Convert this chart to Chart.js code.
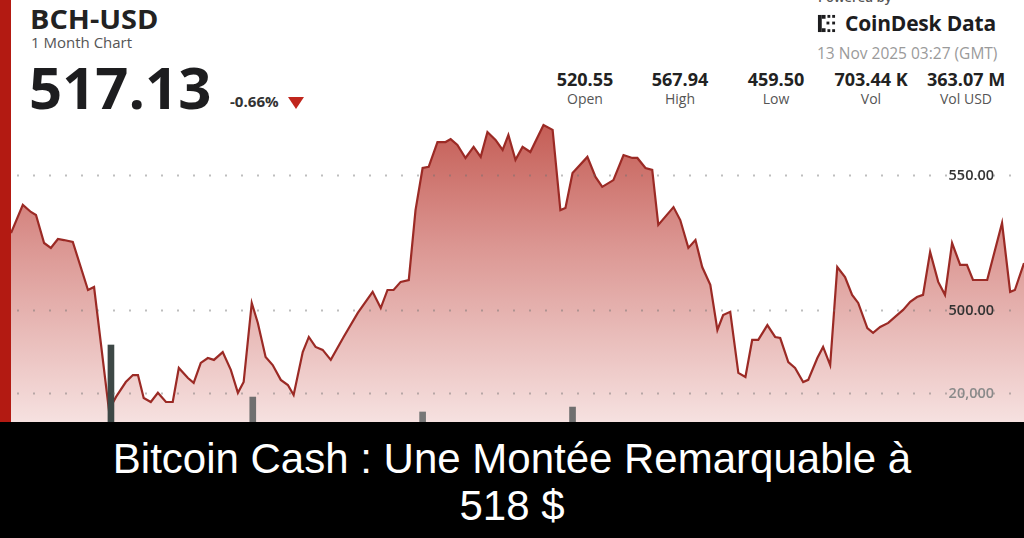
<!DOCTYPE html>
<html>
<head>
<meta charset="utf-8">
<script src="https://cdn.jsdelivr.net/npm/chart.js@4.4.1/dist/chart.umd.min.js"></script>
<style>
    html, body { margin: 0; padding: 0; background: #fff; }
    body { width: 1024px; height: 538px; position: relative; overflow: hidden; font-family: "Open Sans", "Noto Sans", sans-serif; }
    .red-bar { position: absolute; left: 0; top: 0; width: 11px; height: 422px; background: #b31a12; }
    .chart-box { position: absolute; left: 11px; top: 110px; width: 1013px; height: 312px; }
    .abs { position: absolute; white-space: nowrap; line-height: 1; }
    .ticker { left: 30px; top: 5px; font-size: 27px; font-weight: 700; color: #222; transform: scaleX(1.07); transform-origin: left; }
    .sub { left: 31px; top: 35px; font-size: 15px; color: #555; }
    .price { left: 29px; top: 58px; font-size: 58px; font-weight: 700; color: #1d1d1f; }
    .chg { left: 230px; top: 95px; font-size: 14px; font-weight: 700; color: #333; transform: scaleX(1.08); transform-origin: left; }
    .tri { left: 288px; top: 97px; width: 0; height: 0; border-left: 8px solid transparent; border-right: 8px solid transparent; border-top: 12px solid #c0261d; }
    .powered { left: 818px; top: -9px; font-size: 13px; color: #555; font-weight: 600; }
    .logo { left: 845px; top: 13px; font-size: 21px; font-weight: 700; color: #1d1d1f; letter-spacing: -0.2px; }
    .logo-ic { left: 817px; top: 14px; width: 19px; height: 19px; }
    .stamp { left: 817px; top: 46px; font-size: 15.5px; color: #9a9a9a; }
    .stat { width: 120px; text-align: center; }
    .stat-v { top: 70px; font-size: 18px; font-weight: 700; color: #222; }
    .stat-l { top: 92px; font-size: 14px; color: #555; }
    .band { position: absolute; left: 0; top: 422px; width: 1024px; height: 116px; background: #000; color: #fff;
            font-family: "Liberation Sans", Arial, sans-serif; font-size: 42px;
            line-height: 47px; text-align: center; padding-top: 13px; box-sizing: border-box; }
</style>
</head>
<body>
<div class="red-bar"></div>

<div class="abs ticker">BCH-USD</div>
<div class="abs sub">1 Month Chart</div>
<div class="abs price">517.13</div>
<div class="abs chg">-0.66%</div>
<div class="abs tri"></div>

<div class="abs powered">Powered by</div>
<svg class="abs logo-ic" viewBox="0 0 20 20">
    <rect x="1" y="1" width="4" height="18" fill="#1d1d1f"/>
    <rect x="5" y="1" width="4" height="4" fill="#1d1d1f"/>
    <rect x="5" y="15" width="4" height="4" fill="#1d1d1f"/>
    <rect x="11" y="1" width="3" height="3" fill="#1d1d1f"/>
    <rect x="11" y="16" width="3" height="3" fill="#1d1d1f"/>
    <rect x="16" y="1" width="3" height="3" fill="#1d1d1f"/>
    <rect x="16" y="16" width="3" height="3" fill="#1d1d1f"/>
    <rect x="10" y="8" width="3" height="3" fill="#1d1d1f"/>
    <rect x="16" y="8" width="3" height="3" fill="#1d1d1f"/>
</svg>
<div class="abs logo">CoinDesk Data</div>
<div class="abs stamp">13 Nov 2025 03:27 (GMT)</div>

<div id="stats"></div>

<div class="chart-box"><canvas id="chart"></canvas></div>

<div class="band">Bitcoin Cash : Une Montée Remarquable à<br>518 $</div>

<script>
// 📈 DATA (days since start of the 1-month window)
const priceDays = [
    0.00, 0.35, 0.59, 0.74, 0.98, 1.18, 1.39, 1.57, 1.83, 2.28, 2.46, 2.90, 3.11, 3.40, 3.61, 3.76,
    3.93, 4.14, 4.35, 4.59, 4.79, 4.97, 5.24, 5.41, 5.62, 5.83, 6.01, 6.27, 6.51, 6.72, 6.89, 7.13,
    7.31, 7.54, 7.75, 7.99, 8.20, 8.37, 8.64, 8.82, 9.02, 9.23, 9.47, 9.85, 10.27, 10.71, 10.95, 11.15,
    11.33, 11.54, 11.78, 11.98, 12.19, 12.37, 12.63, 12.87, 13.02, 13.22, 13.46, 13.70, 13.91, 14.11,
    14.35, 14.56, 14.73, 14.94, 15.15, 15.38, 15.77, 16.04, 16.27, 16.42, 16.63, 17.07, 17.31, 17.51,
    17.84, 18.14, 18.40, 18.55, 18.79, 18.99, 19.17, 19.62, 19.82, 20.06, 20.27, 20.47, 20.71, 20.92,
    21.09, 21.30, 21.54, 21.75, 21.95, 22.13, 22.40, 22.63, 22.78, 23.02, 23.22, 23.46, 23.61, 23.88,
    24.05, 24.26, 24.47, 24.70, 24.91, 25.09, 25.36, 25.53, 25.74, 25.98, 26.24, 26.42, 26.63, 26.83,
    27.01, 27.22, 27.46, 27.66, 27.87, 28.11, 28.31, 28.49, 28.91, 29.35, 29.59, 29.73, 30.00
];
const prices = [
    528.5, 538.9, 536.3, 535.2, 524.8, 523.0, 526.3, 525.9, 525.2, 507.4, 508.5, 463.0, 467.8, 473.3, 475.9, 475.9,
    467.4, 465.9, 469.3, 465.9, 465.9, 478.5, 474.8, 473.0, 480.4, 482.2, 481.5, 484.4, 477.8, 469.3, 473.3, 502.6,
    495.2, 482.6, 479.6, 474.1, 472.2, 468.5, 484.4, 490.0, 486.3, 485.2, 481.5, 490.0, 498.9, 506.7, 500.7, 507.4,
    507.4, 510.4, 511.1, 537.0, 552.6, 553.0, 562.2, 562.2, 563.3, 561.1, 556.3, 560.4, 556.7, 565.9,
    563.0, 559.3, 564.8, 555.6, 560.4, 558.5, 568.5, 566.7, 537.0, 537.8, 550.7, 556.7, 549.3, 545.6,
    548.1, 557.4, 556.3, 556.3, 552.6, 551.9, 531.5, 538.1, 533.3, 523.0, 525.9, 515.9, 509.3, 492.6,
    498.1, 499.3, 476.7, 475.2, 488.9, 488.9, 494.4, 490.0, 489.6, 480.7, 478.5, 473.3, 474.1, 482.2,
    486.3, 479.6, 515.9, 512.2, 505.6, 502.6, 493.3, 491.5, 493.7, 495.2, 498.1, 500.0, 503.0, 504.8,
    505.6, 521.5, 510.4, 505.6, 524.8, 516.7, 516.7, 511.1, 511.1, 532.2, 506.7, 507.4, 517.4
];
const volumeDays = [2.96, 7.16, 12.19, 16.63];
const volumes = [53100, 17200, 6900, 10300];
const priceTicks = [500, 550];
const volumeTicks = [20000];

const statValues = ['520.55', '567.94', '459.50', '703.44 K', '363.07 M'];
const statLabels = ['Open', 'High', 'Low', 'Vol', 'Vol USD'];
const statCenters = [585, 680, 776, 871, 966];

// 🧾 HEADER STATS
document.getElementById('stats').innerHTML = statValues.map((v, i) => `
    <div class="abs stat stat-v" style="left:${statCenters[i] - 60}px">${v}</div>
    <div class="abs stat stat-l" style="left:${statCenters[i] - 60}px">${statLabels[i]}</div>
`).join('');

// 🎨 CHART
const ctx = document.getElementById('chart').getContext('2d');

function fillGradient(context) {
    const area = context.chart.chartArea;
    if (!area) return 'rgba(196,90,82,0.6)';
    const g = context.chart.ctx.createLinearGradient(0, area.top, 0, area.bottom);
    g.addColorStop(0, '#c2574f');
    g.addColorStop(0.45, '#dc9894');
    g.addColorStop(1, '#f6e1e0');
    return g;
}

// dotted gridlines + tick labels inside the plot, on top of the fill
const insideAxes = {
    id: 'insideAxes',
    afterDatasetsDraw(chart) {
        const c = chart.ctx;
        const area = chart.chartArea;
        const right = area.right - 30;
        const axes = [
            { scale: chart.scales.price, color: '#333', fmt: v => v.toFixed(2) },
            { scale: chart.scales.vol, color: '#8a8a8a', fmt: v => v.toLocaleString('en-US') }
        ];
        c.save();
        axes.forEach(a => {
            a.scale.ticks.forEach(t => {
                const y = Math.round(a.scale.getPixelForValue(t.value)) + 0.5;
                c.strokeStyle = 'rgba(110,110,110,0.45)';
                c.lineWidth = 2;
                c.setLineDash([2, 14]);
                c.beginPath();
                c.moveTo(area.left + 6, y);
                c.lineTo(area.right, y);
                c.stroke();
                c.setLineDash([]);
                c.font = '600 14.5px "Open Sans"';
                c.textAlign = 'right';
                c.textBaseline = 'middle';
                c.fillStyle = a.color;
                c.fillText(a.fmt(t.value), right, y);
            });
        });
        c.restore();
    }
};

new Chart(ctx, {
    data: {
        datasets: [
            {
                type: 'bar',
                data: volumeDays.map((d, i) => ({ x: d, y: volumes[i] })),
                yAxisID: 'vol',
                backgroundColor: ['#3d4846', '#6f6f6f', '#777', '#6f6f6f'],
                barThickness: 6,
                order: 0
            },
            {
                type: 'line',
                data: priceDays.map((d, i) => ({ x: d, y: prices[i] })),
                yAxisID: 'price',
                borderColor: '#9b2a25',
                borderWidth: 2.2,
                backgroundColor: fillGradient,
                fill: 'start',
                pointRadius: 0,
                tension: 0,
                order: 1
            }
        ]
    },
    options: {
        responsive: true,
        maintainAspectRatio: false,
        animation: false,
        layout: { padding: 0 },
        plugins: { legend: { display: false }, tooltip: { enabled: false } },
        scales: {
            x: { type: 'linear', min: 0, max: 30, offset: false, display: false },
            price: {
                position: 'right',
                display: false,
                min: 458.5,
                max: 574.07,
                afterBuildTicks: s => { s.ticks = priceTicks.map(v => ({ value: v })); }
            },
            vol: {
                position: 'right',
                display: false,
                min: 0,
                max: 215172,
                afterBuildTicks: s => { s.ticks = volumeTicks.map(v => ({ value: v })); }
            }
        }
    },
    plugins: [insideAxes]
});
</script>
</body>
</html>
